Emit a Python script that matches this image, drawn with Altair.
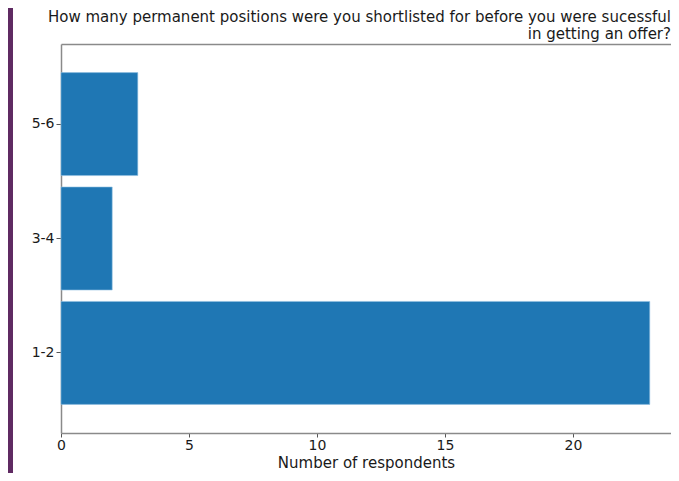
import altair as alt
import pandas as pd

categories = ["1-2", "3-4", "5-6"]
counts = [23, 2, 3]
x_ticks = [0, 5, 10, 15, 20]
title_lines = [
    "How many permanent positions were you shortlisted for before you were sucessful",
    "in getting an offer?",
]

df = pd.DataFrame({"answer": categories, "count": counts})
strip_df = pd.DataFrame({"k": [0]})

FONT = "DejaVu Sans"
W, H = 610, 389
PAD_L, PAD_T, PAD_B = 53, 36, 40
SPINE = "#8a8a8a"
TXT = "#1a1a1a"

y_scale = alt.Scale(paddingInner=0.1, paddingOuter=0.25)
x_scale = alt.Scale(domain=[0, 23.83], nice=False, zero=True)
y_sort = ["5-6", "3-4", "1-2"]

# purple page edge strip (decoration)
strip = alt.Chart(strip_df).mark_rect(color="#5f2a62").encode(
    x=alt.value(-PAD_L), x2=alt.value(-PAD_L + 5), y=alt.value(-PAD_T), y2=alt.value(H + PAD_B)
)

bars = alt.Chart(df).mark_bar(color="#1f77b4", stroke="#8fbfe0", strokeWidth=0.6).encode(
    y=alt.Y(
        "answer:N", sort=y_sort, scale=y_scale,
        axis=alt.Axis(
            title=None, labelFont=FONT, labelFontSize=14, labelColor=TXT,
            tickColor="#555555", tickSize=5, labelPadding=2,
            domain=True, domainColor=SPINE, domainWidth=1.5,
        ),
    ),
    x=alt.X(
        "count:Q", scale=x_scale,
        axis=alt.Axis(
            title="Number of respondents", titleFont=FONT, titleFontSize=15,
            titleFontWeight="normal", titleColor=TXT, titlePadding=3,
            values=x_ticks, format="d", labelFont=FONT, labelFontSize=14,
            labelColor=TXT, tickColor="#555555", tickSize=4, labelPadding=1,
            labelFlush=False, grid=False, domain=True, domainColor=SPINE, domainWidth=1.5,
        ),
    ),
)

top_spine = alt.Chart(df).mark_point(opacity=0).encode(
    x=alt.X(
        "count:Q", scale=x_scale,
        axis=alt.Axis(orient="top", labels=False, ticks=False, title=None, grid=False,
                      domain=True, domainColor=SPINE, domainWidth=1.5),
    ),
)

chart = alt.layer(strip, bars, top_spine).resolve_axis(x="independent").properties(
    width=W,
    height=H,
    padding={"left": PAD_L, "top": PAD_T, "right": 0, "bottom": PAD_B},
    autosize=alt.AutoSizeParams(type="none"),
    title=alt.TitleParams(
        text=title_lines, anchor="end", align="right", font=FONT, fontSize=15,
        fontWeight="normal", color=TXT, lineHeight=17.5, offset=0, dy=34,
        frame="group",
    ),
).configure(background="white").configure_view(stroke=None)

chart.save("out.html", embed_options={"renderer": "svg", "actions": False})
